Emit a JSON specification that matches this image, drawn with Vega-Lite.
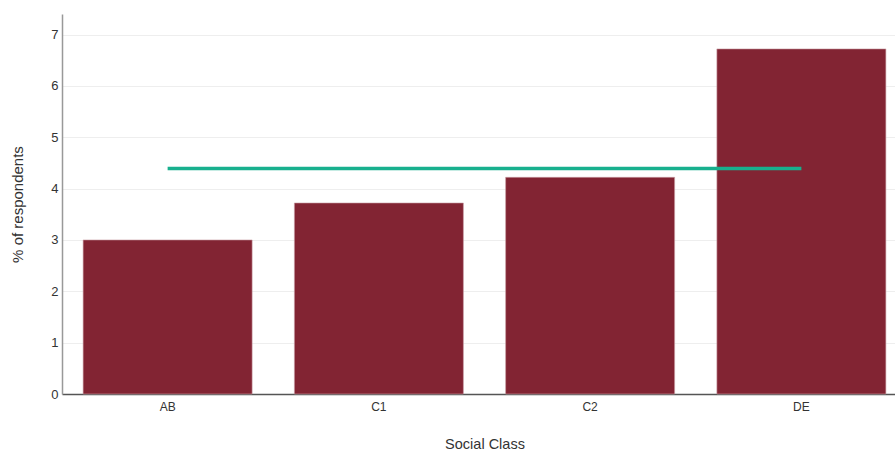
{
  "$schema": "https://vega.github.io/schema/vega-lite/v6.json",
  "width": 845,
  "height": 380,
  "autosize": {"type": "none"},
  "padding": {"left": 62, "top": 14, "right": 0, "bottom": 57},
  "background": "white",
  "config": {
    "view": {"stroke": null},
    "font": "Liberation Sans",
    "axis": {
      "labelFont": "Liberation Sans",
      "titleFont": "Liberation Sans",
      "labelColor": "#333333",
      "titleColor": "#333333",
      "titleFontWeight": "normal",
      "ticks": false
    }
  },
  "layer": [
    {
      "data": {
        "values": [
          {"Social Class": "AB", "Percent": 3.0},
          {"Social Class": "C1", "Percent": 3.72},
          {"Social Class": "C2", "Percent": 4.22},
          {"Social Class": "DE", "Percent": 6.72}
        ]
      },
      "mark": {"type": "bar", "color": "#822433", "stroke": "#c9a0a6", "strokeWidth": 0.6},
      "encoding": {
        "x": {
          "field": "Social Class",
          "type": "nominal",
          "sort": null,
          "scale": {"paddingInner": 0.2, "paddingOuter": 0.1},
          "axis": {
            "labelAngle": 0,
            "labelFontSize": 12,
            "labelPadding": 7,
            "titleFontSize": 14.5,
            "titleBaseline": "middle",
            "titleY": 50,
            "domainColor": "#555555",
            "domainWidth": 1.5,
            "grid": false
          }
        },
        "y": {
          "field": "Percent",
          "type": "quantitative",
          "title": "% of respondents",
          "scale": {"domain": [0, 7.4], "nice": false},
          "axis": {
            "values": [0, 1, 2, 3, 4, 5, 6, 7],
            "labelFontSize": 13,
            "labelPadding": 4,
            "titleFontSize": 15,
            "titleAngle": -90,
            "titleX": -45,
            "titleY": 190,
            "titleAlign": "center",
            "titleBaseline": "middle",
            "domainColor": "#999999",
            "domainWidth": 1.5,
            "gridColor": "#eeeeee",
            "gridWidth": 1
          }
        }
      }
    },
    {
      "data": {
        "values": [
          {"Social Class": "AB", "Average": 4.39},
          {"Social Class": "DE", "Average": 4.39}
        ]
      },
      "mark": {"type": "line", "color": "#18b08e", "strokeWidth": 3.5},
      "encoding": {
        "x": {"field": "Social Class", "type": "nominal", "sort": null},
        "y": {"field": "Average", "type": "quantitative"}
      }
    }
  ]
}
